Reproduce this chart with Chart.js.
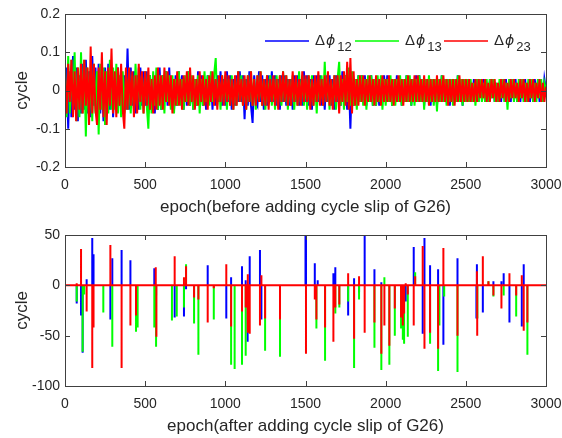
<!DOCTYPE html>
<html>
<head>
<meta charset="utf-8">
<script src="https://cdn.jsdelivr.net/npm/chart.js@4"></script>
<style>
  body { margin: 0; background: #fff; }
  .box { position: absolute; left: 0; width: 562px; height: 219px; }
</style>
</head>
<body>
<div class="box" style="top:0"><canvas id="before"></canvas></div>
<div class="box" style="top:219px"><canvas id="after"></canvas></div>
<script>
// epochs sampled every 10 for the noise plot
const epochs = [];
for (let e = 0; e <= 3000; e += 10) epochs.push(e);

// top plot: phase differences before the cycle slip (cycle), 10 values per 100 epochs
const dphi12 = [
  -.04,.06,-.10,.05,-.07,.09,-.05,.06,-.08,.04,
  -.06,.07,-.05,.08,-.06,.05,-.07,.09,-.04,.06,
  -.05,.07,-.06,.05,-.08,.06,-.04,.07,-.05,.06,
  -.07,.04,-.05,.06,-.04,.05,-.06,.04,-.05,.11,
  -.05,.06,-.04,.05,-.06,.04,-.05,.06,-.04,.05,
  -.04,.05,-.06,.04,-.05,.03,-.06,.04,-.05,.06,
  -.05,.04,-.03,.05,-.04,.06,-.04,.03,-.05,.04,
  -.04,.05,-.03,.04,-.05,.03,-.04,.05,-.04,.03,
  -.05,.03,-.04,.05,-.03,.04,-.04,.03,-.05,.04,
  -.03,.04,-.05,.03,-.04,.04,-.03,.05,-.04,.03,
  -.04,.05,-.03,.04,-.05,.03,-.04,.04,-.03,.05,
  -.03,.04,-.075,.03,-.04,.05,-.04,-.085,.04,-.03,
  -.04,.05,-.03,.04,-.05,.03,-.04,.04,-.03,.05,
  -.03,.04,-.04,.03,-.05,.04,-.03,.04,-.04,.03,
  -.04,.03,-.05,.04,-.03,.04,-.04,.03,-.04,.05,
  -.03,.04,-.04,.03,-.05,.04,-.03,.04,-.03,.04,
  -.04,.03,-.05,.04,-.03,.04,-.04,.03,-.05,.04,
  -.03,.04,-.04,.05,-.03,.04,-.05,.03,-.10,.04,
  -.04,.03,-.04,.04,-.03,.04,-.03,.04,-.04,.03,
  -.03,.04,-.04,.03,-.04,.03,-.04,.03,-.03,.04,
  -.03,.04,-.03,.03,-.04,.03,-.03,.04,-.03,.03,
  -.04,.03,-.03,.04,-.03,.03,-.04,.03,-.03,.04,
  -.03,.04,-.03,.03,-.04,.03,-.03,.03,-.04,.03,
  -.03,.03,-.04,.03,-.03,.04,-.03,.03,-.03,.03,
  -.04,.03,-.03,.03,-.03,.04,-.03,.03,-.04,.03,
  -.03,.03,-.03,.02,-.03,.03,-.03,.02,-.03,.03,
  -.02,.03,-.03,.02,-.03,.03,-.02,.03,-.03,.02,
  -.03,.02,-.03,.03,-.02,.03,-.03,.02,-.03,.03,
  -.02,.03,-.03,.02,-.03,.03,-.02,.03,-.03,.02,
  -.03,.02,-.03,.03,-.02,.03,-.03,.02,-.03,.03,
  0
];
const dphi13 = [
  .03,-.07,.09,-.06,.08,-.05,.10,-.08,.06,-.07,
  .10,-.06,.08,-.12,.06,-.07,.05,-.08,.07,-.06,
  .05,-.115,.07,-.05,.06,-.09,.05,-.06,.08,-.05,
  .06,-.05,.07,-.06,.04,-.07,.05,-.06,.04,-.05,
  .05,-.06,.04,-.05,.07,-.04,.06,-.05,.04,-.06,
  .05,-.04,-.10,.04,-.06,.05,-.04,.06,-.05,.04,
  -.05,.04,-.06,.05,-.03,.04,-.05,.04,-.06,.03,
  -.04,.05,-.04,.03,-.05,.04,-.03,.05,-.04,.04,
  -.05,.03,-.04,.04,-.06,.03,-.04,.05,-.03,.04,
  -.04,.05,-.03,.04,.085,-.04,.03,-.05,.04,-.03,
  .04,-.05,.03,-.04,.04,-.05,.03,-.04,.05,-.03,
  .04,-.04,.03,-.05,.04,-.03,.05,-.04,.03,-.05,
  .04,-.03,.05,-.04,.03,-.05,.04,-.03,.04,-.04,
  .03,-.05,.04,-.03,.04,-.04,.05,-.03,.04,-.05,
  .03,-.04,.04,-.05,.03,-.04,.05,-.03,.04,-.04,
  .03,-.05,.04,-.03,.04,-.04,.03,-.06,.04,-.03,
  .04,-.04,.075,-.03,.04,-.05,.03,-.04,.04,-.05,
  .03,.075,-.04,.03,-.05,.04,-.03,.06,-.04,.05,
  -.04,.03,-.05,.04,-.03,.04,-.04,.03,-.05,.04,
  -.03,.04,-.04,.03,-.04,.04,-.03,.04,-.05,.03,
  -.04,.03,-.03,.04,-.04,.03,-.04,.03,-.03,.04,
  -.04,.03,-.03,.04,-.03,.04,-.04,.03,-.04,.03,
  -.03,.04,-.03,.03,-.05,.03,-.03,.04,-.03,.03,
  -.04,.03,-.055,.03,-.03,.04,-.03,.03,-.04,.03,
  -.03,.03,-.04,.03,-.03,.04,-.03,.03,-.04,.03,
  -.03,.03,-.03,.03,-.03,.02,-.04,.03,-.03,.03,
  -.03,.02,-.03,.03,-.03,.03,-.02,.03,-.03,.02,
  -.03,.03,-.02,.03,-.03,.02,-.05,.03,-.02,.03,
  -.03,.02,-.03,.03,-.02,.03,-.03,.02,-.03,.03,
  -.02,.03,-.03,.02,-.03,.03,-.02,.03,-.03,.02,
  0
];
const dphi23 = [
  .04,-.06,.07,-.03,.08,-.07,.05,-.08,.06,-.05,
  .07,-.06,.08,-.04,.06,-.09,.115,-.06,.07,-.05,
  -.09,.06,-.05,.10,-.07,.05,-.09,.06,-.04,.11,
  -.06,.05,-.07,.06,-.04,.07,-.05,-.10,.06,-.05,
  .06,-.04,.05,-.07,.04,-.06,.07,-.03,.05,-.06,
  .05,-.04,.06,-.05,.03,-.06,.04,-.05,.06,-.04,
  .04,-.05,.06,-.03,.05,-.04,.04,-.06,.03,-.04,
  .05,-.04,.03,-.05,.04,-.03,.05,-.04,.06,-.03,
  .04,-.05,.03,-.04,.05,-.03,.04,-.04,.03,-.05,
  .04,-.03,.05,-.04,.03,-.05,.04,-.03,.04,-.04,
  .05,-.03,.04,-.04,.03,-.05,.04,-.04,.05,-.03,
  .03,-.04,.04,-.05,.04,-.03,.05,-.04,.03,-.04,
  .04,-.03,.05,-.04,.03,-.04,.04,-.05,.03,-.03,
  .04,-.04,.03,-.05,.04,-.03,.05,-.03,.04,-.04,
  .03,-.04,.05,-.03,.04,-.04,.03,-.04,.05,-.03,
  .04,-.03,.04,-.05,.03,-.04,.04,-.03,.05,-.04,
  .03,-.04,.04,-.03,.05,-.04,.03,-.05,.04,-.03,
  .04,-.06,.04,-.03,.05,-.04,.075,-.05,.085,-.06,
  .05,-.04,.03,-.04,.04,-.03,.04,-.04,.03,-.03,
  .04,-.03,.03,-.04,.04,-.03,.03,-.04,.04,-.03,
  .03,-.03,.04,-.03,.03,-.04,.03,-.03,.04,-.03,
  .03,-.04,.03,-.03,.04,-.03,.03,-.03,.04,-.03,
  .04,-.03,.03,-.03,.04,-.03,.03,-.04,.03,-.03,
  .03,-.03,.04,-.03,.03,-.03,.04,-.03,.03,-.04,
  .03,-.03,.03,-.04,.03,-.03,.04,-.03,.03,-.03,
  .03,-.03,.03,-.03,.02,-.03,.03,-.03,.03,-.02,
  .03,-.02,.03,-.03,.02,-.03,.03,-.02,.03,-.03,
  .02,-.03,.03,-.02,.03,-.03,.02,-.03,.03,-.02,
  .03,-.02,.02,-.03,.03,-.02,.03,-.03,.02,-.03,
  .03,-.02,.03,-.03,.02,-.02,.03,-.03,.02,-.03,
  .01
];

// bottom plot: spikes after adding the cycle slip (epoch, cycle)
const slip12Ep  = [73,100,110,135,170,178,283,295,353,408,557,568,684,742,755,890,1006,1036,1104,1127,1139,1152,1216,1225,1500,1503,1558,1576,1674,1686,1766,1803,1834,1869,1930,1973,2125,2175,2231,2242,2277,2327,2360,2448,2566,2569,2606,2672,2722,2736,2772,2849,2861];
const slip12Val = [-18,-30,-67,6,47,31,-34,27,35,25,17,-10,-32,-31,-4,20,-33,8,19,5,-56,29,35,-34,50,47,22,5,12,18,-30,7,-7,50,16,3,-16,38,-48,47,20,16,-59,27,-33,21,-27,4,4,12,-37,-41,21];
const slip13Ep  = [73,110,120,239,295,443,453,557,568,667,697,742,755,805,832,928,1036,1058,1104,1127,1248,1341,1568,1622,1686,1711,1766,1803,1834,1930,1973,1992,2023,2057,2096,2107,2115,2138,2184,2277,2327,2335,2365,2448,2572,2641,2672,2736,2814,2884];
const slip13Val = [-16,-66,-9,-27,-61,-46,-42,-42,-61,-35,-31,-22,21,-38,-69,-34,-79,-83,-79,-70,-65,-71,-43,-75,-28,-22,-16,-82,-14,-62,-84,8,-79,-50,-43,-54,-58,-51,13,-58,-85,-40,-11,-86,-33,4,-11,-10,-31,-69];
const slip23Ep  = [73,100,135,170,178,283,353,408,443,566,570,684,742,755,805,832,890,928,1006,1036,1104,1127,1139,1141,1152,1216,1225,1248,1341,1503,1558,1568,1622,1674,1686,1711,1766,1803,1834,1869,1930,1973,1992,2023,2057,2096,2107,2115,2125,2138,2175,2184,2231,2242,2277,2327,2360,2448,2569,2571,2606,2641,2672,2722,2772,2814,2849,2861,2884];
const slip23Val = [2,36,-26,-82,-42,40,-82,-40,-30,18,-51,29,8,19,-12,-14,-37,-3,21,-41,-26,-22,11,-47,-48,-40,10,-33,-34,-68,-14,-34,-42,-56,-22,-19,12,-53,9,-47,-37,-68,-40,-60,-23,-32,-40,-28,2,-9,-40,9,39,-63,-47,-63,37,-50,14,-50,29,4,-10,-23,12,-10,10,-45,-37];

const BLUE = "#0000ff", GREEN = "#00ff00", RED = "#ff0000";
const INK = "#262626";
const FONT = "'Liberation Sans', Arial, sans-serif";

function noise(vals){
    return epochs.map((e, i) => ({x: e, y: vals[i]}));
}

// red keeps the zero line, the others only their jumps (red covers their zero line anyway)
function spikes(ep, val, baseline){
    const pts = baseline ? [{x: 0, y: 0}] : [];
    ep.forEach((e, i) => {
        pts.push({x: e, y: 0}, {x: e, y: val[i]});
        pts.push(baseline ? {x: e, y: 0} : {x: e, y: null});
    });
    if (baseline) pts.push({x: 3000, y: 0});
    return pts;
}

// box round the plot with inward ticks, like matlab
const frame = {
    id: "frame",
    afterDraw(chart){
        const {ctx, chartArea: a, scales: {x, y}} = chart;
        ctx.save();
        ctx.strokeStyle = "#404040";
        ctx.lineWidth = 1;
        ctx.strokeRect(a.left + 0.5, a.top + 0.5, a.right - a.left, a.bottom - a.top);
        ctx.beginPath();
        x.ticks.forEach(t => {
            const px = Math.round(x.getPixelForValue(t.value)) + 0.5;
            ctx.moveTo(px, a.bottom); ctx.lineTo(px, a.bottom - 5);
            ctx.moveTo(px, a.top); ctx.lineTo(px, a.top + 5);
        });
        y.ticks.forEach(t => {
            const py = Math.round(y.getPixelForValue(t.value)) + 0.5;
            ctx.moveTo(a.left, py); ctx.lineTo(a.left + 5, py);
            ctx.moveTo(a.right, py); ctx.lineTo(a.right - 5, py);
        });
        ctx.stroke();
        ctx.restore();
    }
};

// legend with italic phi and subscripts
const phiLegend = {
    id: "phiLegend",
    afterDraw(chart){
        const {ctx, chartArea: a} = chart;
        const items = [[BLUE, "12", 200], [GREEN, "13", 290], [RED, "23", 379]];
        const y = a.top + 27;
        ctx.save();
        items.forEach(([col, sub, off]) => {
            const x0 = a.left + off;
            ctx.strokeStyle = col;
            ctx.lineWidth = 1.5;
            ctx.beginPath();
            ctx.moveTo(x0, y); ctx.lineTo(x0 + 44, y);
            ctx.stroke();
            ctx.fillStyle = INK;
            ctx.textBaseline = "middle";
            let tx = x0 + 50;
            ctx.font = "15px " + FONT;
            ctx.fillText("\u0394", tx, y);
            tx += ctx.measureText("\u0394").width + 1;
            ctx.font = "italic 14px 'DejaVu Sans', sans-serif";
            ctx.fillText("\u03d5", tx, y);
            tx += ctx.measureText("\u03d5").width + 2;
            ctx.font = "13px " + FONT;
            ctx.fillText(sub, tx, y + 6);
        });
        ctx.restore();
    }
};

function axes(title, ymin, ymax, ystep){
    return {
        x: {
            type: "linear", min: 0, max: 3000,
            grid: {display: false, tickLength: 0}, border: {display: false},
            ticks: {stepSize: 500, color: INK, padding: 10, maxRotation: 0,
                    font: {size: 14, family: FONT}, callback: v => String(v)},
            title: {display: true, text: title, color: INK, padding: {top: 2, bottom: 1}, font: {size: 17, family: FONT}},
            afterFit(s){ s.height = 52; s.paddingLeft = 0; s.paddingRight = 0; }
        },
        y: {
            min: ymin, max: ymax,
            grid: {display: false, tickLength: 0}, border: {display: false},
            ticks: {stepSize: ystep, color: INK, padding: 5, font: {size: 14, family: FONT}},
            title: {display: true, text: "cycle", color: INK, padding: 3, font: {size: 17, family: FONT}},
            afterFit(s){ s.width = 56; s.paddingTop = 0; s.paddingBottom = 0; }
        }
    };
}

const common = {
    responsive: true,
    maintainAspectRatio: false,
    animation: false,
    spanGaps: false,
    elements: {point: {radius: 0}, line: {tension: 0}},
    plugins: {legend: {display: false}, tooltip: {enabled: false}}
};

new Chart(document.getElementById("before"), {
    type: "line",
    data: {
        datasets: [
            {label: "\u0394\u03d512", data: noise(dphi12), borderColor: BLUE, borderWidth: 2, order: 3},
            {label: "\u0394\u03d513", data: noise(dphi13), borderColor: GREEN, borderWidth: 2, order: 2},
            {label: "\u0394\u03d523", data: noise(dphi23), borderColor: RED, borderWidth: 2, order: 1}
        ]
    },
    options: Object.assign({}, common, {
        layout: {padding: {left: 9, right: 16, top: 14, bottom: 0}},
        scales: axes("epoch(before adding cycle slip of G26)", -0.2, 0.2, 0.1)
    }),
    plugins: [frame, phiLegend]
});

new Chart(document.getElementById("after"), {
    type: "line",
    data: {
        datasets: [
            {label: "\u0394\u03d512", data: spikes(slip12Ep, slip12Val, false), borderColor: BLUE, borderWidth: 2, order: 3},
            {label: "\u0394\u03d513", data: spikes(slip13Ep, slip13Val, false), borderColor: GREEN, borderWidth: 2, order: 2},
            {label: "\u0394\u03d523", data: spikes(slip23Ep, slip23Val, true), borderColor: RED, borderWidth: 2, order: 1}
        ]
    },
    options: Object.assign({}, common, {
        layout: {padding: {left: 9, right: 16, top: 16, bottom: 0}},
        scales: axes("epoch(after adding cycle slip of G26)", -100, 50, 50)
    }),
    plugins: [frame]
});
</script>
</body>
</html>
